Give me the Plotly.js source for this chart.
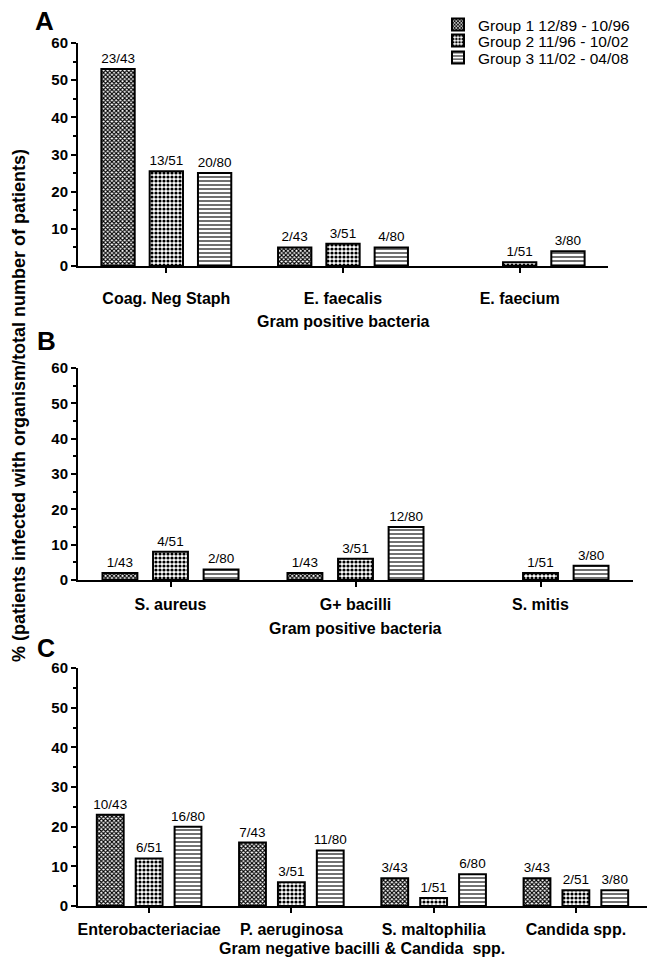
<!DOCTYPE html>
<html>
<head>
<meta charset="utf-8">
<script src="https://cdn.plot.ly/plotly-3.0.1.min.js"></script>
<style>html,body{margin:0;padding:0;background:#fff;}#chart{width:647px;height:957px;}</style>
</head>
<body>
<div id="chart"></div>
<script>
// ---------- data ----------
const groupNames = ['Group 1 12/89 - 10/96', 'Group 2 11/96 - 10/02', 'Group 3 11/02 - 04/08'];

const catsA = ['Coag. Neg Staph', 'E. faecalis', 'E. faecium'];
const g1A = [53, 5, null];
const g2A = [25.5, 6, 1];
const g3A = [25, 5, 4];
const t1A = ['23/43', '2/43', ''];
const t2A = ['13/51', '3/51', '1/51'];
const t3A = ['20/80', '4/80', '3/80'];

const catsB = ['S. aureus', 'G+ bacilli', 'S. mitis'];
const g1B = [2, 2, null];
const g2B = [8, 6, 2];
const g3B = [3, 15, 4];
const t1B = ['1/43', '1/43', ''];
const t2B = ['4/51', '3/51', '1/51'];
const t3B = ['2/80', '12/80', '3/80'];

const catsC = ['Enterobacteriaciae', 'P. aeruginosa', 'S. maltophilia', 'Candida spp.'];
const g1C = [23, 16, 7, 7];
const g2C = [12, 6, 2, 4];
const g3C = [20, 14, 8, 4];
const t1C = ['10/43', '7/43', '3/43', '3/43'];
const t2C = ['6/51', '3/51', '1/51', '2/51'];
const t3C = ['16/80', '11/80', '6/80', '3/80'];

const yTitle = '% (patients infected with organism/total number of patients)';
const xTitleA = 'Gram positive bacteria';
const xTitleB = 'Gram positive bacteria';
const xTitleC = 'Gram negative bacilli & Candida  spp.';

// ---------- styling ----------
const W = 647, H = 957;
const FONT = 'Liberation Sans, Arial, Helvetica, sans-serif';
const px = v => v / W;
const py = v => 1 - v / H;

const patterns = [
  {shape: 'x', size: 3, solidity: 0.6, fgcolor: '#000', bgcolor: '#fff', fillmode: 'replace'},
  {shape: '.', size: 4, solidity: 0.5, fgcolor: '#000', bgcolor: '#fff', fillmode: 'replace'},
  {shape: '-', size: 4, solidity: 0.28, fgcolor: '#000', bgcolor: '#fff', fillmode: 'replace'}
];
const legendIds = ['legend', 'legend2', 'legend3'];

function mk(cats, vals, txt, gi, xa, ya, showLeg) {
  return {
    type: 'bar', x: cats, y: vals, text: txt,
    name: groupNames[gi], xaxis: xa, yaxis: ya,
    legend: legendIds[gi], legendgroup: 'g' + gi, showlegend: showLeg,
    textposition: 'outside', constraintext: 'none', cliponaxis: false,
    textfont: {family: FONT, size: 13.5, color: '#000'},
    marker: {color: '#fff', line: {color: '#000', width: 2}, pattern: patterns[gi]},
    hoverinfo: 'skip'
  };
}

const data = [
  mk(catsA, g1A, t1A, 0, 'x', 'y', true),
  mk(catsA, g2A, t2A, 1, 'x', 'y', true),
  mk(catsA, g3A, t3A, 2, 'x', 'y', true),
  mk(catsB, g1B, t1B, 0, 'x2', 'y2', false),
  mk(catsB, g2B, t2B, 1, 'x2', 'y2', false),
  mk(catsB, g3B, t3B, 2, 'x2', 'y2', false),
  mk(catsC, g1C, t1C, 0, 'x3', 'y3', false),
  mk(catsC, g2C, t2C, 1, 'x3', 'y3', false),
  mk(catsC, g3C, t3C, 2, 'x3', 'y3', false)
];

function xax(domain, anchor, standoff) {
  return {
    domain: domain, anchor: anchor, type: 'category',
    showline: true, linecolor: '#000', linewidth: 2,
    ticks: 'outside', ticklen: 5, tickwidth: 2, tickcolor: '#000',
    ticklabelstandoff: standoff,
    tickfont: {family: FONT, size: 16, color: '#000', weight: 'bold'},
    showgrid: false, zeroline: false, fixedrange: true
  };
}
function yax(domain, anchor) {
  return {
    domain: domain, anchor: anchor, range: [0, 60], dtick: 10, tick0: 0,
    showline: true, linecolor: '#000', linewidth: 2,
    ticks: 'outside', ticklen: 5, tickwidth: 2, tickcolor: '#000',
    minor: {dtick: 5, tick0: 0, ticks: 'outside', ticklen: 3, tickwidth: 2, tickcolor: '#000', showgrid: false},
    tickfont: {family: FONT, size: 15, color: '#000', weight: 'bold'},
    showgrid: false, zeroline: false, fixedrange: true
  };
}

function leg(topPx) {
  return {
    x: px(438), xanchor: 'left', y: py(topPx), yanchor: 'top',
    bgcolor: 'rgba(0,0,0,0)', borderwidth: 0,
    font: {family: FONT, size: 15.5, color: '#000'}
  };
}

function ann(text, xPx, yPx, size, bold, angle) {
  return {
    text: text, xref: 'paper', yref: 'paper', x: px(xPx), y: py(yPx),
    xanchor: 'center', yanchor: 'middle', showarrow: false, textangle: angle || 0,
    font: {family: FONT, size: size, color: '#000', weight: bold ? 'bold' : 'normal'}
  };
}

const layout = {
  width: W, height: H,
  margin: {l: 0, r: 0, t: 0, b: 0},
  paper_bgcolor: '#fff', plot_bgcolor: '#fff',
  barmode: 'group', bargap: 0.18, bargroupgap: 0.31,
  showlegend: true,
  legend: leg(8), legend2: leg(24), legend3: leg(41),
  xaxis: xax([px(78), px(608)], 'y', 12),
  yaxis: yax([py(266), py(43)], 'x'),
  xaxis2: xax([px(78), px(633)], 'y2', 4),
  yaxis2: yax([py(580), py(368)], 'x2'),
  xaxis3: xax([px(78), px(647)], 'y3', 3),
  yaxis3: yax([py(906), py(668)], 'x3'),
  annotations: [
    ann('A', 44, 21, 26, true),
    ann('B', 46, 341, 26, true),
    ann('C', 46, 648, 25, true),
    ann(xTitleA, 343, 321, 16, true),
    ann(xTitleB, 355, 628, 16, true),
    ann(xTitleC, 362, 948, 16, true),
    ann(yTitle, 19, 406, 18, true, -90)
  ]
};

Plotly.newPlot('chart', data, layout, {displayModeBar: false, staticPlot: true});
</script>
</body>
</html>
